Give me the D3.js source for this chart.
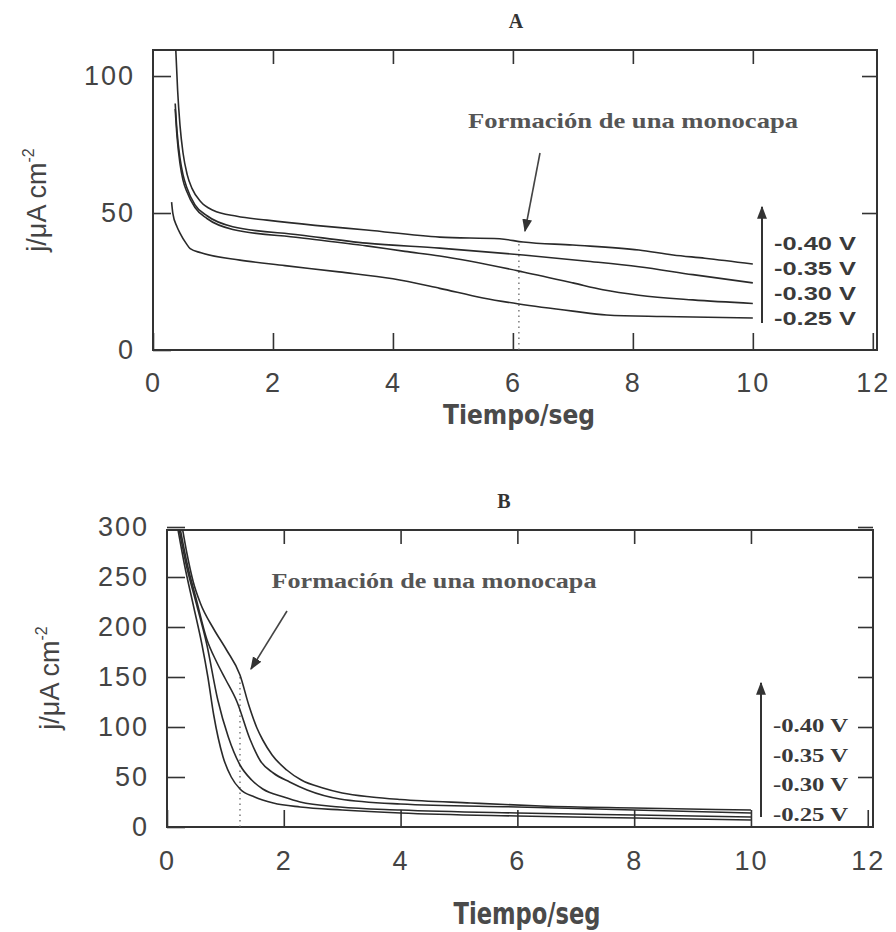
<!DOCTYPE html>
<html>
<head>
<meta charset="utf-8">
<script src="https://cdn.jsdelivr.net/npm/d3@7"></script>
<style>
  body { margin: 0; background: #fff; }
  svg { display: block; }
  .tick text { font-family: 'Liberation Sans', Arial, sans-serif; font-size: 27px; fill: #444; letter-spacing: 2px; }
  .tick line { stroke: #333; stroke-width: 1.6; }
</style>
</head>
<body>
<div id="chart"></div>
<script>
// panel A: j vs t at four potentials  [t (s), j (uA/cm2)]
var seriesLabels = ['-0.40 V', '-0.35 V', '-0.30 V', '-0.25 V'];

var a040 = [[0.38,109.5],[0.41,95],[0.45,82],[0.5,72],[0.57,64],[0.65,59],[0.8,54],[1.0,51],[1.4,48.8],[1.9,47.4],[2.7,45.5],[3.56,43.8],[4.78,41.2],[5.78,40.6],[6.17,39.4],[7.0,38.3],[8.1,36.5],[8.67,34.7],[9.2,33.5],[10,31.4]];
var a035 = [[0.37,90],[0.4,80],[0.45,70],[0.5,64],[0.56,59.5],[0.7,53],[0.9,49],[1.33,45],[2.45,42],[3.56,39],[4.78,37.2],[6.17,34.7],[7.2,32.5],[8.1,30.4],[9,27.5],[10,24.5]];
var a030 = [[0.37,88],[0.4,78],[0.45,68],[0.5,62],[0.56,58],[0.7,52],[0.9,48],[1.33,44],[2.45,41],[3.56,38],[4.2,36],[4.78,34.3],[6.17,28.5],[7.0,24.5],[7.5,22],[8.1,20],[9,18.3],[10,17]];
var a025 = [[0.31,54],[0.33,50],[0.4,45],[0.45,42.7],[0.55,39],[0.62,37],[0.8,35.5],[1.45,32.8],[2.2,30.8],[3.1,28.5],[4,26],[4.78,22.5],[5.5,19],[6.1,16.8],[7.0,14.2],[7.56,12.8],[8.5,12.2],[10,11.7]];

// panel B
var b040 = [[0.26,300],[0.34,274],[0.45,245],[0.57,224],[0.8,198],[1.02,177],[1.25,152],[1.4,122],[1.54,99],[1.64,87],[1.8,72],[2.05,57],[2.3,47],[2.67,39],[3.0,34],[3.5,30],[4,27.5],[5.2,24],[6.4,21],[8,19],[10,17]];
var b035 = [[0.22,300],[0.35,262],[0.5,228],[0.68,188],[0.85,165],[1.0,148],[1.2,125],[1.42,88],[1.6,66],[1.82,54],[2.1,45],[2.4,37],[2.96,28],[4,23],[6,20],[8,17],[10,14]];
var b030 = [[0.2,300],[0.33,262],[0.5,224],[0.68,183],[0.87,127],[1.05,90],[1.25,62],[1.45,47],[1.64,38],[2.0,30],[2.28,25],[2.96,20],[4,17],[6,14],[8,12],[10,10]];
var b025 = [[0.18,300],[0.3,262],[0.45,222],[0.6,182],[0.7,150],[0.8,112],[0.96,70],[1.1,50],[1.25,38],[1.5,30],[1.82,24],[2.28,20],[3,17],[4,14],[6,11],[8,9],[10,7]];

var xTicks = [0, 2, 4, 6, 8, 10, 12];
var yTicksA = [0, 50, 100];
var yTicksB = [0, 50, 100, 150, 200, 250, 300];

var annotation = 'Formación de una monocapa';
var xTitle = 'Tiempo/seg';

var svg = d3.select('#chart').append('svg')
    .attr('width', 896)
    .attr('height', 932);

var defs = svg.append('defs');
defs.append('marker')
    .attr('id', 'head')
    .attr('viewBox', '0 0 10 10')
    .attr('refX', 9).attr('refY', 5)
    .attr('markerWidth', 13).attr('markerHeight', 11)
    .attr('markerUnits', 'userSpaceOnUse')
    .attr('orient', 'auto')
    .attr('preserveAspectRatio', 'none')
    .append('path')
    .attr('d', 'M0,0.5 L10,5 L0,9.5 Z')
    .attr('fill', '#333');

function drawPanel(p) {
    var x = d3.scaleLinear().domain(p.xDomain).range([p.left, p.right]);
    var y = d3.scaleLinear().domain(p.yDomain).range([p.bottom, p.top]);
    var g = svg.append('g');

    defs.append('clipPath').attr('id', 'clip' + p.name)
        .append('rect')
        .attr('x', p.left).attr('y', p.top)
        .attr('width', p.right - p.left).attr('height', p.bottom - p.top);

    // axes, ticks pointing inward
    var bottomAx = g.append('g')
        .attr('transform', 'translate(0,' + p.bottom + ')')
        .call(d3.axisBottom(x).tickValues(xTicks).tickSize(-17).tickFormat(d3.format('d')));
    bottomAx.selectAll('text').attr('y', p.xLabelDy).attr('dy', 0);

    g.append('g')
        .attr('transform', 'translate(0,' + p.top + ')')
        .call(d3.axisTop(x).tickValues(xTicks.slice(1, -1)).tickSize(-14).tickFormat(''));

    g.append('g')
        .attr('transform', 'translate(' + p.left + ',0)')
        .call(d3.axisLeft(y).tickValues(p.yTicks).tickSize(-18).tickPadding(18));

    g.append('g')
        .attr('transform', 'translate(' + p.right + ',0)')
        .call(d3.axisRight(y).tickValues(p.yTicks.slice(1)).tickSize(-15).tickFormat(''));

    g.selectAll('.domain').remove();

    g.append('rect')
        .attr('x', p.left).attr('y', p.top)
        .attr('width', p.right - p.left).attr('height', p.bottom - p.top)
        .attr('fill', 'none')
        .attr('stroke', '#333')
        .attr('stroke-width', 2);

    // dotted marker at monolayer formation
    g.append('line')
        .attr('x1', x(p.dotT)).attr('x2', x(p.dotT))
        .attr('y1', y(0)).attr('y2', y(p.dotTop))
        .attr('stroke', '#666')
        .attr('stroke-width', 1.3)
        .attr('stroke-dasharray', '1.5,4');

    var line = d3.line()
        .x(function(d) { return x(d[0]); })
        .y(function(d) { return y(d[1]); })
        .curve(d3.curveMonotoneX);

    g.append('g')
        .attr('clip-path', 'url(#clip' + p.name + ')')
        .selectAll('path')
        .data(p.series)
        .enter()
        .append('path')
        .attr('d', line)
        .attr('fill', 'none')
        .attr('stroke', '#2a2a2a')
        .attr('stroke-width', 1.6);

    // legend arrow + labels
    g.append('line')
        .attr('x1', p.legX).attr('x2', p.legX)
        .attr('y1', p.legArrow[1]).attr('y2', p.legArrow[0])
        .attr('stroke', '#333')
        .attr('stroke-width', 2)
        .attr('marker-end', 'url(#head)');

    g.selectAll('.leg')
        .data(seriesLabels)
        .enter()
        .append('text')
        .attr('class', 'leg')
        .attr('x', p.legX + 12)
        .attr('y', function(d, i) { return p.legY0 + i * p.legStep; })
        .attr('textLength', p.legLen)
        .attr('lengthAdjust', 'spacingAndGlyphs')
        .style('font-family', p.legFont)
        .style('font-weight', 'bold')
        .style('font-size', p.legSize + 'px')
        .style('fill', '#3a3a3a')
        .text(function(d) { return d; });

    // annotation
    g.append('text')
        .attr('x', p.annX).attr('y', p.annY)
        .attr('text-anchor', 'middle')
        .attr('textLength', p.annLen)
        .attr('lengthAdjust', 'spacingAndGlyphs')
        .style('font-family', "'Liberation Serif', 'DejaVu Serif', serif")
        .style('font-weight', 'bold')
        .style('font-size', p.annSize + 'px')
        .style('fill', '#555')
        .text(annotation);

    g.append('line')
        .attr('x1', p.annArrow[0]).attr('y1', p.annArrow[1])
        .attr('x2', p.annArrow[2]).attr('y2', p.annArrow[3])
        .attr('stroke', '#444')
        .attr('stroke-width', 1.6)
        .attr('marker-end', 'url(#head)');

    // titles
    g.append('text')
        .attr('x', p.titleX).attr('y', p.titleY)
        .attr('text-anchor', 'middle')
        .style('font-family', "'Liberation Serif', serif")
        .style('font-weight', 'bold')
        .style('font-size', '20px')
        .style('fill', '#333')
        .text(p.name);

    g.append('text')
        .attr('x', p.xTitleX).attr('y', p.xTitleY)
        .attr('text-anchor', 'middle')
        .attr('textLength', p.xTitleLen)
        .attr('lengthAdjust', 'spacingAndGlyphs')
        .style('font-family', "'Liberation Sans Narrow', 'DejaVu Sans Condensed', 'Liberation Sans', sans-serif")
        .style('font-weight', 'bold')
        .style('font-size', p.xTitleSize + 'px')
        .style('fill', '#4a4a4a')
        .text(xTitle);

    var yl = g.append('text')
        .attr('transform', 'translate(' + p.yTitleX + ',' + p.yTitleY + ') rotate(-90)')
        .attr('text-anchor', 'middle')
        .style('font-family', "'Liberation Sans', Arial, sans-serif")
        .style('font-size', '27px')
        .style('fill', '#444');
    yl.append('tspan').text('j/μA cm');
    yl.append('tspan').attr('dy', -12).style('font-size', '16px').text('-2');
}

drawPanel({
    name: 'A',
    xDomain: [0, 12.07], yDomain: [0, 109.5],
    left: 153, right: 877, top: 50, bottom: 350,
    yTicks: yTicksA, xLabelDy: 42,
    series: [a040, a035, a030, a025],
    dotT: 6.1, dotTop: 40,
    legX: 762, legArrow: [207, 323],
    legY0: 250, legStep: 25, legLen: 82, legSize: 19,
    legFont: "'Liberation Sans', Arial, sans-serif",
    annX: 633, annY: 128, annLen: 330, annSize: 22,
    annArrow: [540, 153, 525, 231],
    titleX: 516, titleY: 28,
    xTitleX: 519, xTitleY: 424, xTitleLen: 152, xTitleSize: 27,
    yTitleX: 46, yTitleY: 200
});

drawPanel({
    name: 'B',
    xDomain: [0, 12.09], yDomain: [0, 297],
    left: 167, right: 873, top: 530, bottom: 827,
    yTicks: yTicksB, xLabelDy: 43,
    series: [b040, b035, b030, b025],
    dotT: 1.25, dotTop: 150,
    legX: 761, legArrow: [683, 817],
    legY0: 732, legStep: 29.5, legLen: 75, legSize: 18,
    legFont: "'Liberation Serif', 'DejaVu Serif', serif",
    annX: 434, annY: 588, annLen: 325, annSize: 20,
    annArrow: [287, 611, 251, 669],
    titleX: 504, titleY: 508,
    xTitleX: 527, xTitleY: 924, xTitleLen: 147, xTitleSize: 30,
    yTitleX: 59, yTitleY: 678
});
</script>
</body>
</html>
